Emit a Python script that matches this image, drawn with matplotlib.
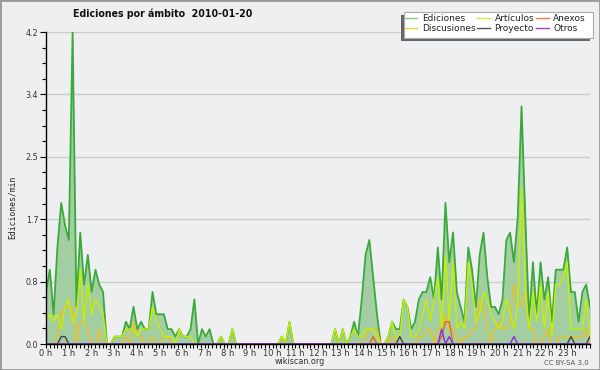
import matplotlib
matplotlib.use('Agg')
import matplotlib.pyplot as plt
import numpy as np
from matplotlib.patches import Rectangle
from matplotlib.ticker import MultipleLocator
from matplotlib.lines import Line2D

# ---- data (edits per minute, 10-minute bins) ----
ediciones = [
    0.7, 1.0, 0.4, 1.3, 1.9, 1.6, 1.4, 4.2, 0.5, 1.5,
    0.8, 1.2, 0.7, 1.0, 0.8, 0.7, 0.0, 0.0, 0.1, 0.1,
    0.1, 0.3, 0.2, 0.5, 0.2, 0.3, 0.2, 0.2, 0.7, 0.4,
    0.4, 0.4, 0.2, 0.2, 0.1, 0.2, 0.1, 0.1, 0.2, 0.6,
    0.0, 0.2, 0.1, 0.2, 0.0, 0.0, 0.1, 0.0, 0.0, 0.2,
    0.0, 0.0, 0.0, 0.0, 0.0, 0.0, 0.0, 0.0, 0.0, 0.0,
    0.0, 0.0, 0.1, 0.0, 0.3, 0.0, 0.0, 0.0, 0.0, 0.0,
    0.0, 0.0, 0.0, 0.0, 0.0, 0.0, 0.2, 0.0, 0.2, 0.0,
    0.1, 0.3, 0.1, 0.6, 1.2, 1.4, 0.9, 0.4, 0.0, 0.0,
    0.1, 0.3, 0.2, 0.2, 0.6, 0.5, 0.2, 0.3, 0.6, 0.7,
    0.7, 0.9, 0.6, 1.3, 0.6, 1.9, 1.1, 1.5, 0.7, 0.5,
    0.3, 1.3, 1.0, 0.5, 1.2, 1.5, 0.9, 0.5, 0.5, 0.4,
    0.6, 1.4, 1.5, 1.1, 1.7, 3.2, 1.7, 0.3, 1.1, 0.4,
    1.1, 0.6, 0.9, 0.3, 1.0, 1.0, 1.0, 1.3, 0.7, 0.7,
    0.3, 0.7, 0.8, 0.5,
]
articulos = [
    0.3, 0.4, 0.3, 0.4, 0.2, 0.5, 0.6, 0.3, 0.4, 1.0,
    0.3, 0.8, 0.4, 0.6, 0.5, 0.4, 0.0, 0.0, 0.1, 0.1,
    0.1, 0.2, 0.2, 0.2, 0.1, 0.2, 0.2, 0.2, 0.5, 0.3,
    0.2, 0.1, 0.1, 0.1, 0.0, 0.2, 0.1, 0.1, 0.1, 0.0,
    0.0, 0.0, 0.0, 0.0, 0.0, 0.0, 0.1, 0.0, 0.0, 0.2,
    0.0, 0.0, 0.0, 0.0, 0.0, 0.0, 0.0, 0.0, 0.0, 0.0,
    0.0, 0.0, 0.1, 0.0, 0.3, 0.0, 0.0, 0.0, 0.0, 0.0,
    0.0, 0.0, 0.0, 0.0, 0.0, 0.0, 0.2, 0.0, 0.2, 0.0,
    0.1, 0.2, 0.1, 0.1, 0.2, 0.2, 0.2, 0.1, 0.0, 0.0,
    0.1, 0.3, 0.1, 0.1, 0.6, 0.5, 0.1, 0.1, 0.2, 0.4,
    0.6, 0.3, 0.6, 0.9, 0.2, 1.2, 0.3, 1.1, 0.2, 0.3,
    0.2, 1.1, 0.8, 0.3, 0.4, 0.7, 0.6, 0.4, 0.3, 0.2,
    0.3, 0.6, 0.4, 0.2, 0.5, 2.1, 0.7, 0.2, 0.7, 0.3,
    0.8, 0.2, 0.7, 0.1, 0.8, 0.8, 0.9, 1.1, 0.2, 0.2,
    0.2, 0.2, 0.6, 0.1,
]
discusiones = [
    0.0, 0.0, 0.0, 0.1, 0.4, 0.5, 0.5, 0.5, 0.0, 0.3,
    0.3, 0.2, 0.0, 0.0, 0.2, 0.0, 0.0, 0.0, 0.0, 0.0,
    0.0, 0.1, 0.0, 0.3, 0.1, 0.1, 0.0, 0.0, 0.1, 0.0,
    0.0, 0.1, 0.1, 0.0, 0.0, 0.0, 0.0, 0.0, 0.0, 0.0,
    0.0, 0.0, 0.0, 0.0, 0.0, 0.0, 0.0, 0.0, 0.0, 0.0,
    0.0, 0.0, 0.0, 0.0, 0.0, 0.0, 0.0, 0.0, 0.0, 0.0,
    0.0, 0.0, 0.1, 0.0, 0.0, 0.0, 0.0, 0.0, 0.0, 0.0,
    0.0, 0.0, 0.0, 0.0, 0.0, 0.0, 0.0, 0.0, 0.0, 0.0,
    0.0, 0.0, 0.0, 0.0, 0.1, 0.2, 0.2, 0.2, 0.0, 0.0,
    0.0, 0.1, 0.0, 0.0, 0.0, 0.0, 0.0, 0.0, 0.1, 0.1,
    0.2, 0.2, 0.0, 0.2, 0.2, 0.4, 0.2, 0.2, 0.1, 0.0,
    0.1, 0.1, 0.2, 0.2, 0.6, 0.5, 0.2, 0.0, 0.2, 0.3,
    0.2, 0.2, 0.3, 0.8, 0.6, 0.5, 0.7, 0.2, 0.2, 0.0,
    0.0, 0.1, 0.2, 0.0, 0.0, 0.1, 0.1, 0.1, 0.1, 0.1,
    0.1, 0.1, 0.2, 0.0,
]
n_points = len(ediciones)
anexos_idx = [86, 104, 105, 106]
anexos_val = [0.1, 0.1, 0.3, 0.3]
proyecto_idx = [4, 5, 93, 138, 143]
proyecto_val = [0.1, 0.1, 0.1, 0.1, 0.1]
otros_idx = [104, 106, 123]
otros_val = [0.2, 0.1, 0.1]

hour_labels = [f'{h} h' for h in range(24)]
series_names = ['Ediciones', 'Artículos', 'Anexos', 'Discusiones', 'Proyecto', 'Otros']


def sparse(idx, val):
    arr = np.zeros(n_points)
    arr[idx] = val
    return arr


anexos = sparse(anexos_idx, anexos_val)
proyecto = sparse(proyecto_idx, proyecto_val)
otros = sparse(otros_idx, otros_val)

W, H = 600, 370
fig = plt.figure(figsize=(6, 3.7), dpi=100, facecolor='#efefef')
ax = fig.add_axes([46 / W, 26 / H, 544 / W, 312 / H])
ax.set_facecolor('#eeeff1')

x = np.linspace(0, 24, n_points)
c_ed = '#3aaa3a'
c_art = '#c6f000'
c_anx = '#f06020'
c_dis = '#f0c020'
c_pro = '#444444'
c_otr = '#8a2be2'

ax.fill_between(x, ediciones, color='#a2cea2', lw=0, zorder=1)
ax.plot(x, ediciones, color=c_ed, lw=1.3, zorder=2)
ax.plot(x, discusiones, color=c_dis, lw=1.0, zorder=3)
ax.plot(x, articulos, color=c_art, lw=1.0, zorder=4)
ax.plot(x, anexos, color=c_anx, lw=1.0, zorder=5)
ax.plot(x, proyecto, color=c_pro, lw=1.0, zorder=5)
ax.plot(x, otros, color=c_otr, lw=1.0, zorder=5)

ax.set_xlim(0, 24)
ax.set_ylim(0, 4.2)
yt = np.arange(6) * 0.84
ax.set_yticks(yt)
ax.set_yticklabels([f'{v:.1f}' for v in yt])
ax.yaxis.set_minor_locator(MultipleLocator(0.21))
ax.set_xticks(range(24))
ax.set_xticklabels(hour_labels)
ax.xaxis.set_minor_locator(MultipleLocator(1 / 6))
ax.grid(axis='y', color='#cccccc', lw=1.0)
ax.set_axisbelow(True)
for s in ['top', 'right']:
    ax.spines[s].set_visible(False)
for s in ['left', 'bottom']:
    ax.spines[s].set_color('black')
    ax.spines[s].set_linewidth(1.0)
    ax.spines[s].set_zorder(6)
ax.tick_params(axis='y', which='major', length=4.5, width=0.8, labelsize=5.8, pad=1, colors='black', labelcolor='#333333')
ax.tick_params(axis='y', which='minor', length=3, width=0.8)
ax.tick_params(axis='x', which='both', length=3, width=0.8, labelsize=6, pad=0.5, labelcolor='#333333')

fig.text(12 / W, 1 - 207 / H, 'Ediciones/min', rotation=90, ha='center', va='center',
         fontsize=5.9, family='DejaVu Sans Mono', color='#222222')
fig.text(163 / W, 1 - 14 / H, 'Ediciones por ámbito  2010-01-20', ha='center', va='center',
         fontsize=7.6, weight='bold', fontstretch='condensed', color='#111111')
fig.text(300 / W, 1 - 362 / H, 'wikiscan.org', ha='center', va='center', fontsize=5.8, color='#333333')
fig.text(589 / W, 1 - 363 / H, 'CC BY-SA 3.0', ha='right', va='center', fontsize=5, color='#555555')

# legend box with shadow
fig.patches.append(Rectangle((401 / W, 1 - 41 / H), 189 / W, 26 / H, transform=fig.transFigure,
                             facecolor='#666666', edgecolor='none', zorder=0))
fig.patches.append(Rectangle((404 / W, 1 - 38 / H), 189 / W, 26 / H, transform=fig.transFigure,
                             facecolor='white', edgecolor='#aaaaaa', lw=0.8, zorder=1))
leg_colors = ['#80c880', '#c8f040', '#f08050', '#f8d040', '#555555', '#9040f0']
handles = [Line2D([], [], color=c, lw=1.0) for c in leg_colors]
order = [0, 3, 1, 4, 2, 5]
leg = fig.legend([handles[i] for i in order], [series_names[i] for i in order], ncol=3,
                 loc='upper left', bbox_to_anchor=(403 / W, 1 - 12 / H), frameon=False,
                 fontsize=6.5, handlelength=1.4, handletextpad=0.5, columnspacing=0.2,
                 labelspacing=0.1, borderpad=0.2, borderaxespad=0, labelcolor='#222222')

fig.patches.append(Rectangle((0, 0), 1, 1, transform=fig.transFigure, fill=False,
                             edgecolor='#999999', lw=2))

fig.savefig('out.png', dpi=100, facecolor=fig.get_facecolor())
